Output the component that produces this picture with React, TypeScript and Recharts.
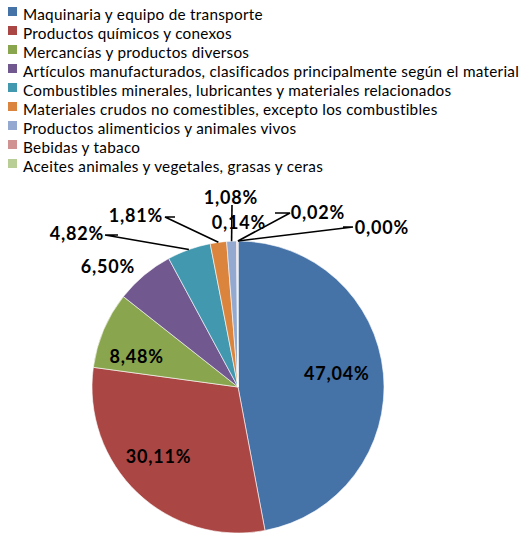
import { Cell, Pie, PieChart } from "recharts";

const categories = [
  "Maquinaria y equipo de transporte",
  "Productos químicos y conexos",
  "Mercancías y productos diversos",
  "Artículos manufacturados, clasificados principalmente según el material",
  "Combustibles minerales, lubricantes y materiales relacionados",
  "Materiales crudos no comestibles, excepto los combustibles",
  "Productos alimenticios y animales vivos",
  "Bebidas y tabaco",
  "Aceites animales y vegetales, grasas y ceras",
  "Otros",
];

const shares = [47.04, 30.11, 8.48, 6.5, 4.82, 1.81, 1.08, 0.14, 0.02, 0.0];

const labelText = [
  "47,04%",
  "30,11%",
  "8,48%",
  "6,50%",
  "4,82%",
  "1,81%",
  "1,08%",
  "0,14%",
  "0,02%",
  "0,00%",
];

// the legend only lists the first nine categories
const LEGEND_COUNT = 9;

const COLORS = [
  "#4572A7",
  "#AA4643",
  "#89A54E",
  "#71588F",
  "#4198AF",
  "#DB843D",
  "#93A9CF",
  "#D19392",
  "#B9CD96",
  "#A99BBD",
];

const data = categories.map((name, i) => ({ name, value: shares[i] }));

const CX = 238;
const CY = 387;
const R = 146;
const RADIAN = Math.PI / 180;

// label placement, relative to the pie centre
type Placement =
  | { kind: "inside"; r: number; dx: number; dy: number }
  | { kind: "outside"; at: [number, number]; elbow?: [number, number][] };

const placement: Placement[] = [
  { kind: "inside", r: 0.68, dx: 0, dy: -5 },
  { kind: "inside", r: 0.71, dx: -8, dy: -6 },
  { kind: "inside", r: 0.71, dx: -6, dy: 10 },
  { kind: "outside", at: [-130, -121] },
  { kind: "outside", at: [-161, -154], elbow: [[-120, -152], [-133, -152]] },
  { kind: "outside", at: [-102, -172], elbow: [[-63, -170], [-73, -170]] },
  { kind: "outside", at: [-7, -190], elbow: [[-6, -182]] },
  { kind: "outside", at: [1, -165] },
  { kind: "outside", at: [80, -175], elbow: [[37, -174], [52, -174]] },
  { kind: "outside", at: [144, -160], elbow: [[105, -160], [115, -160]] },
];

const labelFont = {
  fontFamily: "Lato, 'Liberation Sans', sans-serif",
  fontWeight: 700,
  fontSize: 18,
  letterSpacing: 0.8,
};

function renderLabel(props: any) {
  const { cx, cy, midAngle, outerRadius, index } = props;
  const p = placement[index];
  if (!p) return null;
  if (p.kind === "inside") {
    const rr = outerRadius * p.r;
    const x = cx + rr * Math.cos(-midAngle * RADIAN) + p.dx;
    const y = cy + rr * Math.sin(-midAngle * RADIAN) + p.dy;
    return (
      <text
        key={`l-${index}`}
        x={x}
        y={y}
        textAnchor="middle"
        dominantBaseline="central"
        fill="#000"
        style={labelFont}
      >
        {labelText[index]}
      </text>
    );
  }
  const sx = cx + outerRadius * Math.cos(-midAngle * RADIAN);
  const sy = cy + outerRadius * Math.sin(-midAngle * RADIAN);
  const pts = [[sx, sy], ...(p.elbow ?? []).map(([ex, ey]) => [cx + ex, cy + ey])];
  // elbow listed from the text end towards the slice, reverse so it starts at slice
  const ordered = [pts[0], ...pts.slice(1).reverse()];
  return (
    <g key={`l-${index}`}>
      {p.elbow && (
        <polyline
          points={ordered.map(([a, b]) => `${a},${b}`).join(" ")}
          fill="none"
          stroke="#000"
          strokeWidth={1.6}
        />
      )}
      <text
        x={cx + p.at[0]}
        y={cy + p.at[1]}
        textAnchor="middle"
        dominantBaseline="central"
        fill="#000"
        style={labelFont}
      >
        {labelText[index]}
      </text>
    </g>
  );
}

export default function App() {
  return (
    <div
      style={{
        position: "absolute",
        top: 0,
        left: 0,
        width: 522,
        height: 534,
        background: "#fff",
      }}
    >
      <div style={{ position: "absolute", top: 0, left: 0 }}>
        {categories.slice(0, LEGEND_COUNT).map((name, i) => (
          <div key={name}>
            <div
              style={{
                position: "absolute",
                left: 8,
                top: 7 + i * 19,
                width: 9,
                height: 9,
                background: COLORS[i],
              }}
            />
            <div
              style={{
                position: "absolute",
                left: 23,
                top: 5 + i * 19,
                lineHeight: "19px",
                fontFamily: "Lato, 'Liberation Sans', sans-serif",
                fontSize: 15.3,
                letterSpacing: 0.27,
                whiteSpace: "nowrap",
                color: "#000",
              }}
            >
              {name}
            </div>
          </div>
        ))}
      </div>
      <div style={{ position: "absolute", top: 0, left: 0 }}>
        <PieChart
          width={522}
          height={534}
          margin={{ top: 0, right: 0, bottom: 0, left: 0 }}
        >
          <Pie
            data={data}
            dataKey="value"
            nameKey="name"
            cx={CX}
            cy={CY}
            outerRadius={R}
            startAngle={90}
            endAngle={-270}
            stroke="#fff"
            strokeWidth={0.6}
            label={renderLabel}
            labelLine={false}
            isAnimationActive={false}
          >
            {data.map((d, i) => (
              <Cell key={d.name} fill={COLORS[i]} />
            ))}
          </Pie>
        </PieChart>
      </div>
    </div>
  );
}
